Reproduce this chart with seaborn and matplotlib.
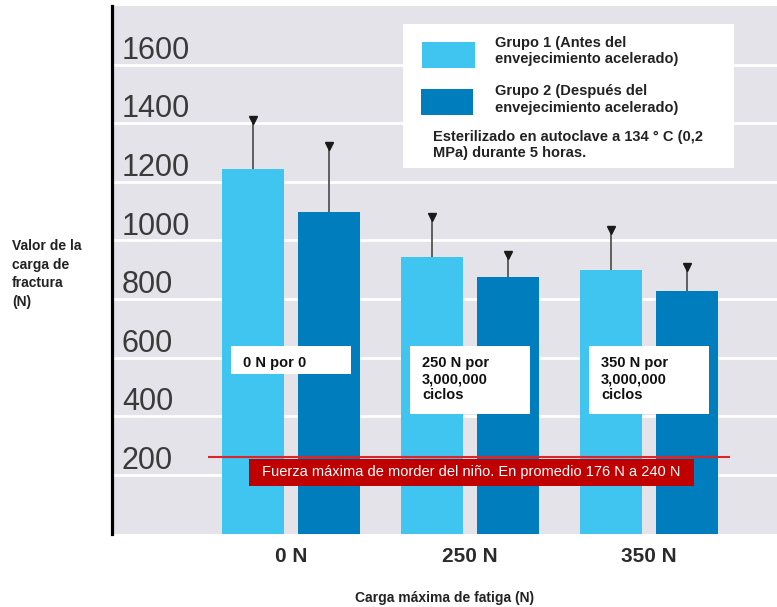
import matplotlib
matplotlib.use('Agg')
import matplotlib.pyplot as plt
import seaborn as sns
import pandas as pd
from matplotlib.patches import Rectangle

# Data
cargas = ['0 N', '250 N', '350 N']
grupos = ['Grupo 1 (Antes del\nenvejecimiento acelerado)',
          'Grupo 2 (Después del\nenvejecimiento acelerado)']
grupo1 = [1245, 942, 901]
grupo2 = [1097, 874, 827]
grupo1_sd = [165, 139, 135]
grupo2_sd = [224, 77, 84]
ciclos = ['0 N por 0', '250 N por\n3,000,000\nciclos', '350 N por\n3,000,000\nciclos']
yticks = [200, 400, 600, 800, 1000, 1200, 1400, 1600]
mordida = 260

light = '#40C4F0'
dark = '#007DBC'
bg = '#E4E3E9'

plt.rcParams['font.family'] = ['Liberation Sans', 'DejaVu Sans']

W, H = 777, 607
fig = plt.figure(figsize=(W / 100, H / 100), dpi=100)
ax = fig.add_axes([112 / W, 1 - 533.6 / H, 665 / W, 527.6 / H])
ax.set_facecolor(bg)


def px(x, y):
    # pixel position (from top-left) to figure fraction
    return x / W, 1 - y / H


df = pd.DataFrame({
    'carga': cargas * 2,
    'grupo': [grupos[0]] * 3 + [grupos[1]] * 3,
    'valor': grupo1 + grupo2,
})

sns.barplot(data=df, x='carga', y='valor', hue='grupo', palette=[light, dark],
            saturation=1, width=0.855, gap=0.19, errorbar=None, legend=False,
            linewidth=0, ax=ax, zorder=2)

# upward error bars with triangle caps
for cont, sds in zip(ax.containers, [grupo1_sd, grupo2_sd]):
    for bar, sd in zip(cont, sds):
        xc = bar.get_x() + bar.get_width() / 2
        top = bar.get_height()
        ax.vlines(xc, top, top + sd, color='#555555', lw=1.3, zorder=3)
        ax.plot(xc, top + sd, marker='v', color='#1a1a1a', ms=6, zorder=4)

ax.set_xlim(-1.0, 2.715)
ax.set_ylim(0, 1800)
ax.set_axisbelow(True)
ax.set_yticks(yticks)
ax.yaxis.grid(True, color='white', lw=2)
ax.xaxis.grid(False)
ax.tick_params(axis='y', left=False, labelleft=False)
ax.tick_params(axis='x', length=0, pad=10, labelsize=15, labelcolor='#2b2b2b')
for t in ax.get_xticklabels():
    t.set_fontweight('bold')

for s in ['top', 'right', 'bottom']:
    ax.spines[s].set_visible(False)
ax.spines['left'].set_color('black')
ax.spines['left'].set_linewidth(2.3)

# y tick values drawn inside the plot, above their gridlines
for v in yticks:
    ax.text(0.015, v + 20, str(v), transform=ax.get_yaxis_transform(),
            fontsize=22, color='#3a3a3a', va='baseline', ha='left')

ax.set_ylabel('')
ax.set_xlabel('Carga máxima de fatiga (N)', fontsize=10, fontweight='bold',
              color='#222222', labelpad=18)
fig.text(*px(12, 274), 'Valor de la\ncarga de\nfractura\n(N)', ha='left', va='center',
         fontsize=10, fontweight='bold', color='#222222', linespacing=1.45)

# cycle boxes
for i, txt in enumerate(ciclos):
    bottom = 545 if i == 0 else 408
    ax.add_patch(Rectangle((i - 0.335, bottom), 0.67, 640.5 - bottom,
                           facecolor='white', edgecolor='none', zorder=5))
    ax.text(i - 0.268, 606, txt, ha='left', va='top', fontsize=10.5,
            fontweight='bold', color='#111111', linespacing=1.2, zorder=6)

# child bite force line
ax.hlines(mordida, -0.464, 2.453, color='#D9262B', lw=1.5, zorder=5)
ax.add_patch(Rectangle((-0.235, 162.5), 2.486, 92.5, facecolor='#C00000',
                       edgecolor='none', zorder=6))
ax.text(1.008, 208.7, 'Fuerza máxima de morder del niño. En promedio 176 N a 240 N',
        ha='center', va='center', fontsize=10.5, color='white', zorder=7)

# legend box
x0, y0 = px(403, 168)
x1, y1 = px(734, 24)
fig.patches.append(Rectangle((x0, y0), x1 - x0, y1 - y0, transform=fig.transFigure,
                             facecolor='white', edgecolor='none', zorder=10))
for (lx, ly, lw_, lh), col, lab, ty in [((422, 68, 53, 26), light, grupos[0], 51),
                                         ((421, 115, 52, 26), dark, grupos[1], 99.5)]:
    a, b = px(lx, ly)
    fig.patches.append(Rectangle((a, b), lw_ / W, lh / H, transform=fig.transFigure,
                                 facecolor=col, edgecolor='none', zorder=11))
    fig.text(*px(495, ty), lab, ha='left', va='center', fontsize=10.5, fontweight='bold',
             color='#222222', zorder=12)
fig.text(*px(433, 145), 'Esterilizado en autoclave a 134 ° C (0,2\nMPa) durante 5 horas.',
         ha='left', va='center', fontsize=10.5, fontweight='bold', color='#222222', zorder=12)

fig.savefig('out.png', dpi=100)
